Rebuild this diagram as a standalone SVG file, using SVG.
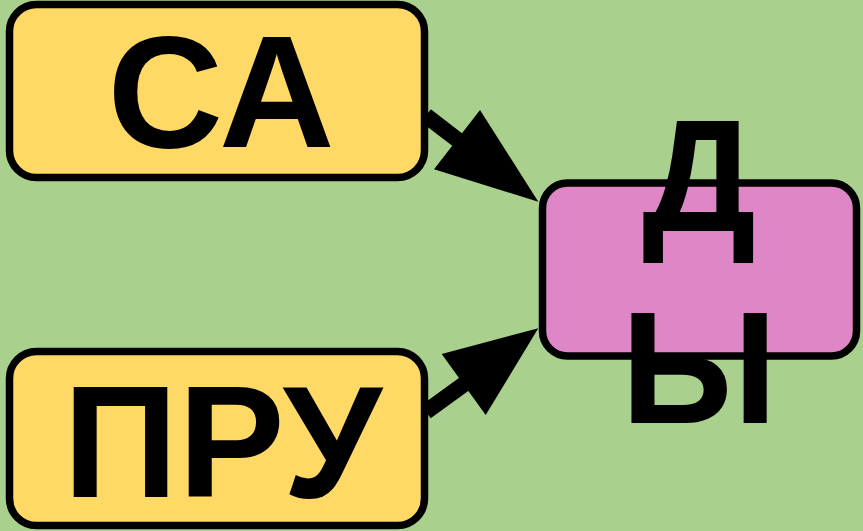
<svg xmlns="http://www.w3.org/2000/svg" width="863" height="531" viewBox="0 0 863 531">
  <style>
    .box { stroke: #000; stroke-width: 7.5; }
    .src { fill: #ffd966; }
    .dst { fill: #df86c6; }
    .lbl { font-family: "Liberation Sans", Arial, sans-serif; font-weight: bold; font-size: 160px; fill: #000; text-anchor: middle; }
    .edge { stroke: #000; stroke-width: 16; fill: none; stroke-linecap: butt; }
    .head { fill: #000; stroke: none; }
  </style>
  <rect x="0" y="0" width="863" height="531" fill="#aad08e"/>
  <g id="connectors">
    <g id="edge-sa-dy">
      <line class="edge" x1="426" y1="115.7" x2="461" y2="142.5"/>
      <polygon class="head" points="480,110 538.3,201.7 434,169.3"/>
    </g>
    <g id="edge-pru-dy">
      <line class="edge" x1="426" y1="411.7" x2="467" y2="382"/>
      <polygon class="head" points="441.7,354 538.3,328.3 485.7,415"/>
    </g>
  </g>
  <g id="node-sa">
    <rect class="box src" x="9.5" y="4.5" width="415" height="173" rx="27" ry="27"/>
    <text class="lbl" x="221" y="146.7">СА</text>
  </g>
  <g id="node-pru">
    <rect class="box src" x="9.5" y="351.5" width="415" height="174" rx="27" ry="27"/>
    <text class="lbl" x="222.5" y="496.7">ПРУ</text>
  </g>
  <g id="node-dy">
    <rect class="box dst" x="542.5" y="183" width="314" height="173" rx="25" ry="25"/>
    <text class="lbl" x="699" y="231">Д</text>
    <text class="lbl" x="699" y="422.7">Ы</text>
  </g>
</svg>
